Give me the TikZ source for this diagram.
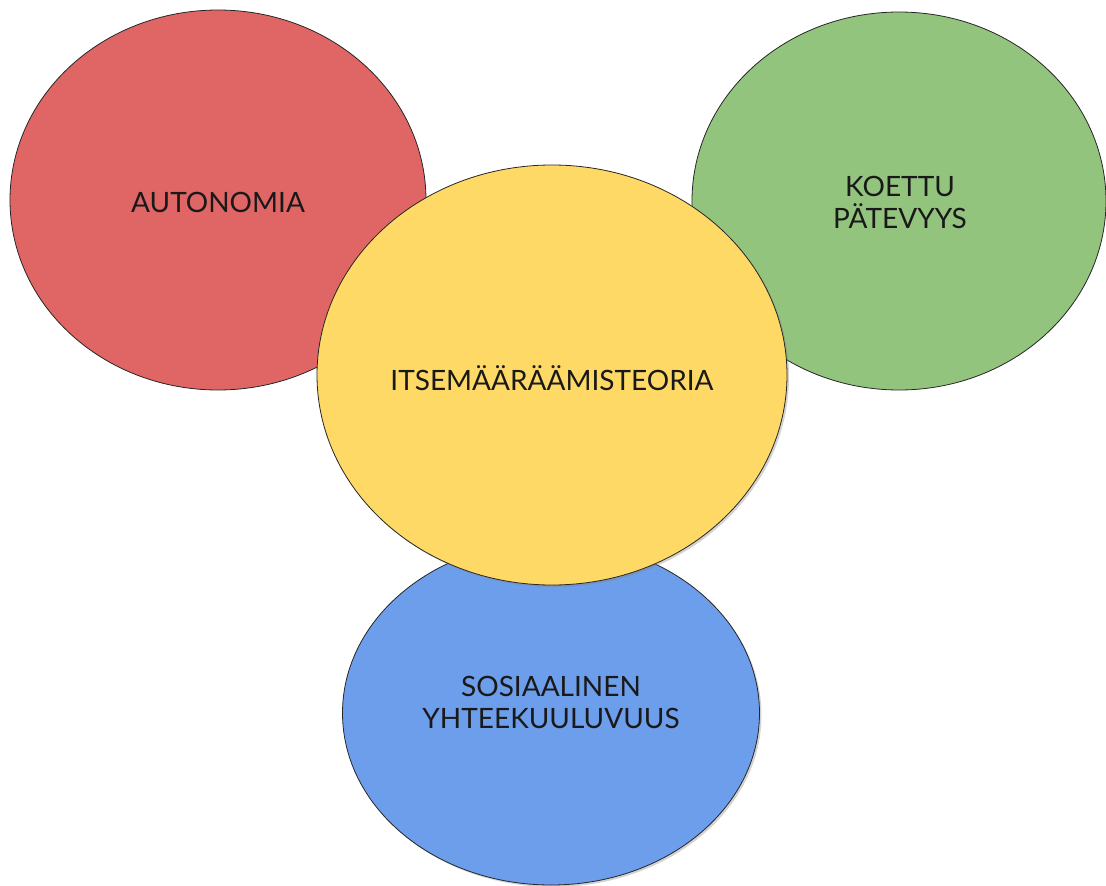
\documentclass[tikz,border=0pt]{standalone}
\usepackage{fontspec}
\setmainfont{Lato}
\usepackage{tikz}
\usetikzlibrary{shapes.geometric, shadows}
\definecolor{autoRed}{HTML}{E06666}
\definecolor{koeGreen}{HTML}{93C47D}
\definecolor{itseYellow}{HTML}{FFD966}
\definecolor{sosBlue}{HTML}{6D9EEB}
\tikzset{
	bubble/.style={ellipse, draw=black!85, line width=0.8pt, inner sep=0pt},
	shadowed/.style={drop shadow={opacity=0.35, shadow xshift=2pt, shadow yshift=-2pt}},
	lbl/.style={align=center, font=\fontsize{28}{32}\selectfont, text=black!90}
}
\begin{document}
\begin{tikzpicture}[x=1pt, y=-1pt]
	\useasboundingbox (0,0) rectangle (1106,886);
	% the three needs
	\node[bubble, fill=autoRed, minimum width=416pt, minimum height=380pt] (auto) at (218,200) {};
	\node[bubble, fill=koeGreen, minimum width=414pt, minimum height=378pt] (koe) at (899,201) {};
	\node[bubble, fill=sosBlue, shadowed, minimum width=417pt, minimum height=344pt] (sos) at (551,713) {};
	% theory in the middle
	\node[bubble, fill=itseYellow, shadowed, minimum width=470pt, minimum height=420pt] (itse) at (552,375) {};
	\node[lbl] (autotxt) at (218,202) {AUTONOMIA};
	\node[lbl] (koetxt) at (900,202) {KOETTU\\PÄTEVYYS};
	\node[lbl] (itsetxt) at (552,378) {ITSEMÄÄRÄÄMISTEORIA};
	\node[lbl] (sostxt) at (551,702) {SOSIAALINEN\\YHTEEKUULUVUUS};
\end{tikzpicture}
\end{document}
